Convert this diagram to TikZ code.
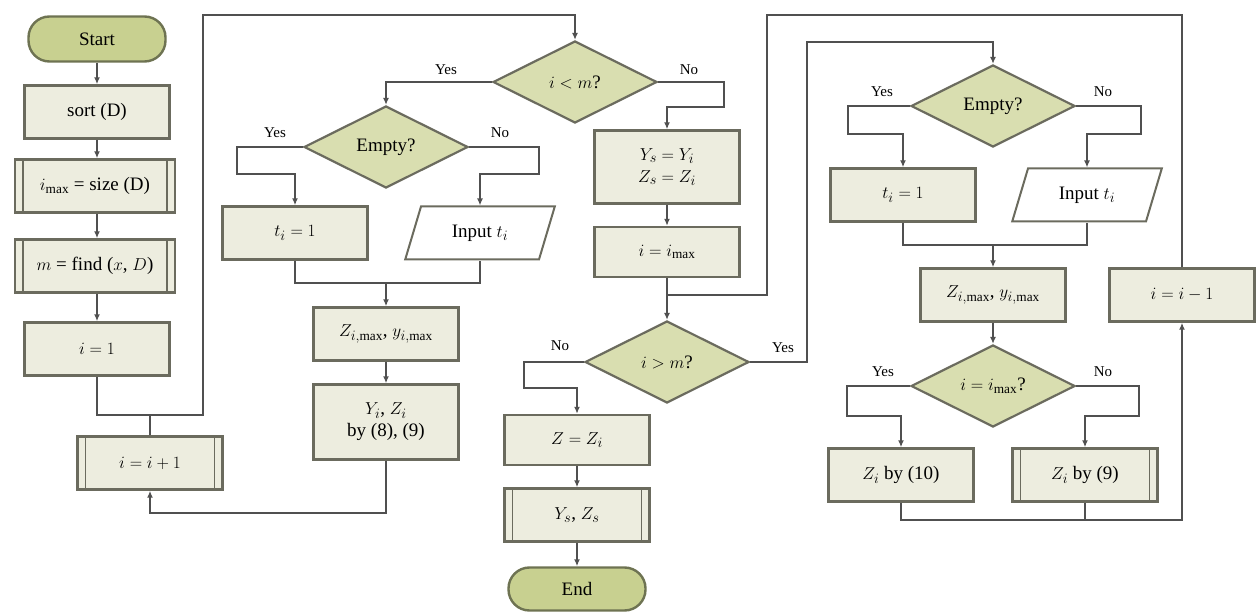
\documentclass[tikz,border=0pt]{standalone}
\usepackage{fontspec}
\setmainfont{Liberation Serif}
\usetikzlibrary{shapes.geometric,arrows.meta}
\definecolor{boxfill}{HTML}{EDEDDF}
\definecolor{boxline}{HTML}{6B6B5E}
\definecolor{decfill}{HTML}{D9DEB0}
\definecolor{termfill}{HTML}{C8D090}
\definecolor{termline}{HTML}{6E7352}
\definecolor{conn}{HTML}{505050}
\begin{document}
\begin{tikzpicture}[x=1pt,y=-1pt, font=\fontsize{19}{22}\selectfont,
 box/.style={rectangle, draw=boxline, fill=boxfill, line width=2.4pt, minimum width=145pt, minimum height=53pt, inner sep=2pt, align=center},
 predef/.style={box, path picture={
   \draw[boxline, line width=1.6pt] ([xshift=8pt]path picture bounding box.north west) -- ([xshift=8pt]path picture bounding box.south west);
   \draw[boxline, line width=1.6pt] ([xshift=-8pt]path picture bounding box.north east) -- ([xshift=-8pt]path picture bounding box.south east);}},
 decision/.style={diamond, draw=boxline, fill=decfill, line width=2.2pt, minimum width=164pt, minimum height=82pt, inner sep=0pt},
 term/.style={rectangle, rounded corners=21pt, draw=termline, fill=termfill, line width=2.4pt, minimum width=137pt, minimum height=45pt},
 io/.style={trapezium, trapezium left angle=70, trapezium right angle=110, trapezium stretches=true, draw=boxline, fill=white, line width=2pt, minimum width=150pt, minimum height=53pt},
 line/.style={draw=conn, line width=2pt},
 arr/.style={line, -{Latex[length=7pt,width=6pt]}},
 lab/.style={font=\fontsize{15}{17}\selectfont}
]
\useasboundingbox (0,0) rectangle (1258,612);
% left column
\node[term] (start) at (97,39) {Start};
\node[box] (sort) at (97,112) {sort (D)};
\node[predef, minimum width=160pt] (imax) at (95,186) {$i_{\max}$ = size (D)};
\node[predef, minimum width=160pt] (find) at (95,266) {$m$ = find ($x$, $D$)};
\node[box] (i1) at (97,349) {$i = 1$};
\node[predef] (inc) at (150,463) {$i = i + 1$};
% middle-left
\node[decision] (D1) at (575,82) {$i < m$?};
\node[decision] (E1) at (386,147) {Empty?};
\node[box] (t1) at (295,233) {$t_i = 1$};
\node[io] (in1) at (480,233) {Input $t_i$};
\node[box] (zm1) at (386,334) {$Z_{i,\max}$, $y_{i,\max}$};
\node[box, minimum height=75pt] (yz) at (386,422) {$Y_i$, $Z_i$\\by (8), (9)};
% middle
\node[box, minimum height=73pt] (ys) at (667,167) {$Y_s = Y_i$\\$Z_s = Z_i$};
\node[box, minimum height=50pt] (im2) at (667,252) {$i = i_{\max}$};
\node[decision] (D3) at (667,362) {$i > m$?};
\node[box, minimum height=50pt] (zz) at (577,440) {$Z = Z_i$};
\node[predef] (out) at (577,515) {$Y_s$, $Z_s$};
\node[term, minimum height=43pt] (end) at (577,589) {End};
% right
\node[decision] (E2) at (993,106) {Empty?};
\node[box] (t2) at (903,195) {$t_i = 1$};
\node[io] (in2) at (1087,195) {Input $t_i$};
\node[box] (zm2) at (993,295) {$Z_{i,\max}$, $y_{i,\max}$};
\node[box] (idec) at (1182,295) {$i = i - 1$};
\node[decision] (D4) at (993,386) {$i = i_{\max}$?};
\node[box] (z10) at (901,475) {$Z_i$ by (10)};
\node[predef] (z9) at (1085,475) {$Z_i$ by (9)};
% labels
\node[lab] (y1) at (446,70) {Yes};
\node[lab] (n1) at (689,70) {No};
\node[lab] (y2) at (275,133) {Yes};
\node[lab] (n2) at (500,133) {No};
\node[lab] (n3) at (560,346) {No};
\node[lab] (y3) at (783,348) {Yes};
\node[lab] (y4) at (882,92) {Yes};
\node[lab] (n4) at (1103,92) {No};
\node[lab] (y5) at (883,372) {Yes};
\node[lab] (n5) at (1103,372) {No};
% coordinates
\coordinate (J1) at (203,415);
\coordinate (T1) at (203,15);
\coordinate (B1) at (150,513);
\coordinate (J2) at (386,283);
\coordinate (J3) at (667,295);
\coordinate (T4) at (767,15);
\coordinate (T3) at (807,42);
\coordinate (J4) at (993,245);
\coordinate (B2) at (1182,520);
% connectors left column
\draw[arr] (start.south) -- (sort.north);
\draw[arr] (sort.south) -- (sort.south |- imax.north);
\draw[arr] (imax.south -| sort.south) -- (sort.south |- find.north);
\draw[arr] (find.south -| sort.south) -- (i1.north);
\draw[arr] (i1.south) |- (J1) -- (T1) -| (D1.north);
\draw[line] (inc.north) -- (inc.north |- J1);
\draw[arr] (yz.south) |- (B1) -- (inc.south);
% first loop body
\draw[arr] (D1.west) -| (E1.north);
\draw[arr] (E1.west) -- ++(-66,0) -- ++(0,27) -| (t1.north);
\draw[arr] (E1.east) -- ++(70,0) -- ++(0,27) -| (in1.north);
\draw[line] (t1.south) |- (in1.south |- J2) -- (in1.south);
\draw[arr] (J2) -- (zm1.north);
\draw[arr] (zm1.south) -- (yz.north);
% exit of first loop
\draw[arr] (D1.east) -- ++(66,0) -- ++(0,25) -| (ys.north);
\draw[arr] (ys.south) -- (im2.north);
\draw[arr] (im2.south) -- (D3.north);
\draw[line] (idec.north) |- (T4) |- (J3);
\draw[arr] (D3.west) -- ++(-60,0) -- ++(0,26) -| (zz.north);
\draw[arr] (zz.south) -- (out.north);
\draw[arr] (out.south) -- (end.north);
% second loop
\draw[arr] (D3.east) -| (T3) -| (E2.north);
\draw[arr] (E2.west) -- ++(-62,0) -- ++(0,28) -| (t2.north);
\draw[arr] (E2.east) -- ++(65,0) -- ++(0,28) -| (in2.north);
\draw[line] (t2.south) |- (in2.south |- J4) -- (in2.south);
\draw[arr] (J4) -- (zm2.north);
\draw[arr] (zm2.south) -- (D4.north);
\draw[arr] (D4.west) -- ++(-63,0) -- ++(0,30) -| (z10.north);
\draw[arr] (D4.east) -- ++(63,0) -- ++(0,30) -| (z9.north);
\draw[arr] (z10.south) |- (B2) -- (idec.south);
\draw[line] (z9.south) -- (z9.south |- B2);
\end{tikzpicture}
\end{document}
